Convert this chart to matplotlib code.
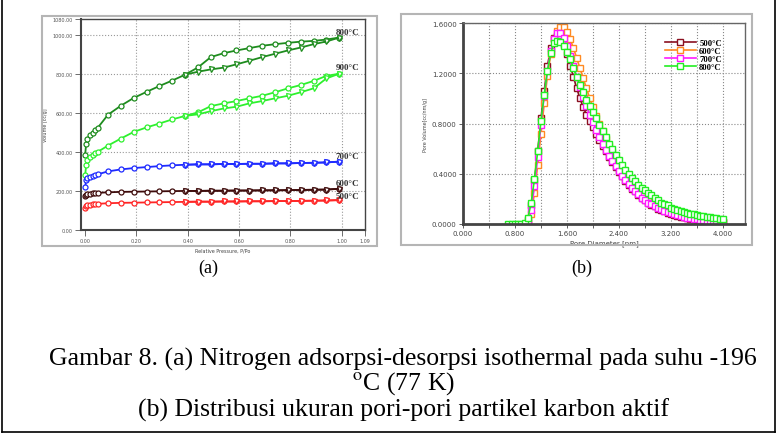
import numpy as np
import matplotlib
matplotlib.use('Agg')
import matplotlib.pyplot as plt
from matplotlib.patches import Rectangle
from matplotlib.lines import Line2D

plt.rcParams['mathtext.fontset'] = 'stix'

# ---- (a) N2 adsorption-desorption isotherms ----
p_ads = [0.001, 0.005, 0.01, 0.02, 0.03, 0.04, 0.05, 0.09, 0.14, 0.19, 0.24, 0.29, 0.34,
         0.39, 0.44, 0.49, 0.54, 0.59, 0.64, 0.69, 0.74, 0.79, 0.84, 0.89, 0.94, 0.99]
p_des = [0.99, 0.94, 0.89, 0.84, 0.79, 0.74, 0.69, 0.64, 0.59, 0.54, 0.49, 0.44, 0.39]

ads_800 = [382, 442, 468, 485, 499, 511, 523, 590, 636, 676, 707, 737, 765,
           795, 832, 885, 905, 919, 931, 943, 951, 958, 964, 968, 975, 985]
des_800 = [985, 965, 951, 934, 919, 902, 885, 866, 848, 831, 822, 810, 795]
ads_900 = [279, 331, 357, 374, 382, 392, 400, 432, 468, 502, 525, 545, 566,
           584, 602, 634, 648, 660, 674, 687, 705, 725, 742, 763, 789, 800]
des_900 = [800, 776, 725, 705, 687, 674, 660, 648, 631, 622, 608, 592, 584]
ads_700 = [219, 254, 266, 271, 276, 280, 285, 300, 310, 317, 322, 327, 331,
           334, 336, 336, 338, 338, 339, 339, 341, 341, 343, 344, 346, 350]
des_700 = [350, 346, 344, 343, 341, 341, 339, 339, 338, 338, 336, 336, 334]
ads_600 = [173, 180, 183, 186, 188, 189, 190, 193, 195, 196, 197, 198, 199,
           200, 200, 201, 201, 202, 202, 203, 203, 204, 205, 206, 207, 211]
des_600 = [211, 207, 206, 205, 204, 203, 203, 202, 202, 201, 201, 200, 200]
ads_500 = [115, 122, 126, 129, 131, 133, 134, 137, 139, 140, 141, 142, 143,
           144, 145, 145, 146, 146, 147, 147, 148, 148, 149, 150, 151, 153]
des_500 = [153, 151, 150, 149, 148, 148, 147, 147, 146, 146, 145, 145, 144]

iso_labels = ['800°C', '900°C', '700°C', '600°C', '500°C']
iso_label_y = [1013, 834, 379, 241, 174]

# ---- (b) pore size distribution ----
diam = [0.95, 1.00, 1.05, 1.10, 1.15, 1.20, 1.25, 1.30, 1.35, 1.40, 1.45, 1.50, 1.55,
        1.60, 1.65, 1.70, 1.75, 1.80, 1.85, 1.90, 1.95, 2.00, 2.05, 2.10, 2.15, 2.20,
        2.25, 2.30, 2.35, 2.40, 2.45, 2.50, 2.55, 2.60, 2.65, 2.70, 2.75, 2.80, 2.85,
        2.90, 2.95, 3.00, 3.05, 3.10, 3.15, 3.20, 3.25, 3.30, 3.35, 3.40, 3.45, 3.50,
        3.55, 3.60, 3.65, 3.70, 3.75, 3.80, 3.85, 3.90, 3.95, 4.00]
diam_800 = [0.70, 0.75, 0.80, 0.85, 0.90] + diam

pv_500 = [0.00, 0.03, 0.15, 0.35, 0.58, 0.84, 1.06, 1.26, 1.40, 1.48, 1.50, 1.48, 1.43,
          1.35, 1.26, 1.17, 1.08, 1.00, 0.93, 0.87, 0.82, 0.77, 0.72, 0.67, 0.62, 0.58,
          0.53, 0.49, 0.45, 0.41, 0.38, 0.34, 0.31, 0.28, 0.26, 0.23, 0.21, 0.19, 0.17,
          0.15, 0.14, 0.12, 0.11, 0.10, 0.09, 0.08, 0.072, 0.065, 0.058, 0.052, 0.047, 0.042,
          0.038, 0.034, 0.031, 0.028, 0.025, 0.023, 0.021, 0.019, 0.017, 0.015]
pv_600 = [0.00, 0.00, 0.08, 0.25, 0.47, 0.72, 0.96, 1.18, 1.35, 1.47, 1.54, 1.57, 1.57,
          1.53, 1.47, 1.40, 1.32, 1.24, 1.16, 1.08, 1.00, 0.93, 0.86, 0.80, 0.74, 0.68,
          0.62, 0.57, 0.52, 0.47, 0.43, 0.39, 0.35, 0.32, 0.29, 0.26, 0.24, 0.21, 0.19,
          0.17, 0.16, 0.14, 0.13, 0.115, 0.104, 0.094, 0.085, 0.077, 0.069, 0.063, 0.057, 0.051,
          0.046, 0.042, 0.038, 0.034, 0.031, 0.028, 0.025, 0.023, 0.021, 0.019]
pv_700 = [0.00, 0.01, 0.11, 0.30, 0.53, 0.79, 1.02, 1.22, 1.38, 1.47, 1.52, 1.52, 1.48,
          1.42, 1.34, 1.26, 1.17, 1.09, 1.01, 0.94, 0.87, 0.81, 0.75, 0.69, 0.64, 0.59,
          0.54, 0.50, 0.46, 0.42, 0.38, 0.35, 0.32, 0.29, 0.26, 0.24, 0.21, 0.19, 0.17,
          0.16, 0.14, 0.13, 0.12, 0.105, 0.095, 0.085, 0.077, 0.069, 0.062, 0.056, 0.050, 0.045,
          0.041, 0.037, 0.033, 0.030, 0.027, 0.024, 0.022, 0.020, 0.018, 0.016]
pv_800 = [0.00, 0.00, 0.00, 0.00, 0.00,
          0.01, 0.05, 0.17, 0.36, 0.58, 0.82, 1.03, 1.22, 1.36, 1.44, 1.46, 1.45, 1.42,
          1.37, 1.31, 1.24, 1.17, 1.11, 1.05, 0.99, 0.94, 0.89, 0.84, 0.79, 0.74, 0.69,
          0.64, 0.60, 0.55, 0.51, 0.47, 0.43, 0.40, 0.37, 0.34, 0.31, 0.29, 0.27, 0.25,
          0.23, 0.21, 0.19, 0.17, 0.16, 0.15, 0.13, 0.12, 0.11, 0.105, 0.097, 0.090, 0.083,
          0.077, 0.071, 0.066, 0.061, 0.057, 0.053, 0.049, 0.046, 0.043, 0.040]
psd_labels = ['500°C', '600°C', '700°C', '800°C']

W, H = 777, 435
fig = plt.figure(figsize=(W / 100, H / 100), dpi=100)

def fx(px):
    return px / W

def fy(py):
    return 1 - py / H

# outer frame of the page (left, right, bottom)
for xs, ys in [([fx(2), fx(2)], [fy(433), 1]), ([fx(775), fx(775)], [fy(433), 1]),
               ([fx(2), fx(775)], [fy(433), fy(433)])]:
    fig.add_artist(Line2D(xs, ys, color='black', lw=1.2))

# grey image frames
fig.add_artist(Rectangle((fx(42), fy(247)), fx(335), 230 / H, fill=False,
                         ec='#b5b5b5', lw=1.5))
fig.add_artist(Rectangle((fx(401), fy(246)), fx(351), 231 / H, fill=False,
                         ec='#b5b5b5', lw=1.5))

# ---------- panel (a) ----------
ax1 = fig.add_axes([fx(81), fy(231), fx(365 - 81), (231 - 20) / H])
iso = [(ads_800, des_800, '#1e8c1e'), (ads_900, des_900, '#2ef02e'),
       (ads_700, des_700, '#1f2bff'), (ads_600, des_600, '#3f0c0c'),
       (ads_500, des_500, '#ff2626')]
for ads, des, c in iso:
    ax1.plot(p_ads, ads, '-', color=c, lw=1.3, marker='o', ms=3.6, mfc='white', mec=c, mew=0.9)
    ax1.plot(p_des, des, '-', color=c, lw=1.3, marker='v', ms=3.6, mfc='white', mec=c, mew=0.9)
for lab, y in zip(iso_labels, iso_label_y):
    ax1.text(0.975, y, lab, fontsize=6.5, family='Liberation Serif', fontweight='bold',
             color='#333333', va='center', ha='left')
ax1.set_xlim(-0.015, 1.09)
ax1.set_ylim(0, 1080)
ax1.set_xticks([0, 0.2, 0.4, 0.6, 0.8, 1.0, 1.09])
ax1.set_xticklabels(['0.00', '0.20', '0.40', '0.60', '0.80', '1.00', '1.09'])
ax1.set_yticks([0, 200, 400, 600, 800, 1000, 1080])
ax1.set_yticklabels(['0.00', '200.00', '400.00', '600.00', '800.00', '1000.00', '1080.00'])
ax1.tick_params(labelsize=3.5, colors='#555555', length=4, width=0.6, pad=2)
for gx in [0.2, 0.4, 0.6, 0.8, 1.0]:
    ax1.axvline(gx, color='#999999', ls=':', lw=0.8, zorder=0)
for gy in [200, 400, 600, 800, 1000]:
    ax1.axhline(gy, color='#999999', ls=':', lw=0.8, zorder=0)
ax1.set_xlabel('Relative Pressure, P/Po', fontsize=3.5, color='#444444', labelpad=3)
ax1.set_ylabel('Volume [cc/g]', fontsize=3.5, color='#444444', labelpad=3)
for s in ax1.spines.values():
    s.set_color('#444444')
    s.set_linewidth(1.0)
ax1.spines['left'].set_linewidth(1.5)
ax1.spines['bottom'].set_linewidth(1.5)

# ---------- panel (b) ----------
ax2 = fig.add_axes([fx(463), fy(225), fx(745 - 463), (225 - 24) / H])
psd = [(diam, pv_500, '#8a1020'), (diam, pv_600, '#ff8a22'),
       (diam, pv_700, '#ff1aff'), (diam_800, pv_800, '#22ee22')]
for (xs, ys, c), lab in zip(psd, psd_labels):
    ax2.plot(xs, ys, '-', color=c, lw=1.2, marker='s', ms=4.5, mfc='white', mec=c,
             mew=1.0, label=lab)
ax2.set_xlim(0, 4.34)
ax2.set_ylim(0, 1.6)
xt = np.arange(0, 4.01, 0.4)
ax2.set_xticks(xt)
ax2.set_xticklabels(['%.3f' % v if i % 2 == 0 else '' for i, v in enumerate(xt)])
ax2.set_yticks([0, 0.4, 0.8, 1.2, 1.6])
ax2.set_yticklabels(['0.0000', '0.4000', '0.8000', '1.2000', '1.6000'])
ax2.tick_params(labelsize=5, colors='#444444', length=3, width=0.6, pad=1.5)
ax2.grid(True, color='#888888', ls=':', lw=0.8)
ax2.set_axisbelow(True)
ax2.set_xlabel('Pore Diameter [nm]', fontsize=5, color='#444444', labelpad=2)
ax2.set_ylabel('Pore Volume[cc/nm/g]', fontsize=3.5, color='#444444', labelpad=3)
for s in ax2.spines.values():
    s.set_color('#666666')
    s.set_linewidth(1.0)
ax2.spines['left'].set_color('#444444')
ax2.spines['left'].set_linewidth(2.0)
ax2.spines['bottom'].set_color('#444444')
ax2.spines['bottom'].set_linewidth(2.0)
ax2.legend(loc='upper right', bbox_to_anchor=(0.93, 0.94), frameon=False,
           prop={'family': 'Liberation Serif', 'weight': 'bold', 'size': 6.2},
           handlelength=3.6, labelspacing=0.0, handletextpad=0.4, borderaxespad=0)

# ---------- text below ----------
fig.text(fx(208), fy(268), '(a)', ha='center', va='center', fontsize=13,
         family='Liberation Serif')
fig.text(fx(582), fy(268), '(b)', ha='center', va='center', fontsize=13,
         family='Liberation Serif')
cap = ['Gambar 8. (a) Nitrogen adsorpsi-desorpsi isothermal pada suhu -196',
       '$^{\\mathrm{o}}$C (77 K)',
       '(b) Distribusi ukuran pori-pori partikel karbon aktif']
for line, y in zip(cap, [359, 384, 410]):
    fig.text(fx(403), fy(y), line, ha='center', va='center', fontsize=18.5,
             family='Liberation Serif')

fig.savefig('out.png', dpi=100)
